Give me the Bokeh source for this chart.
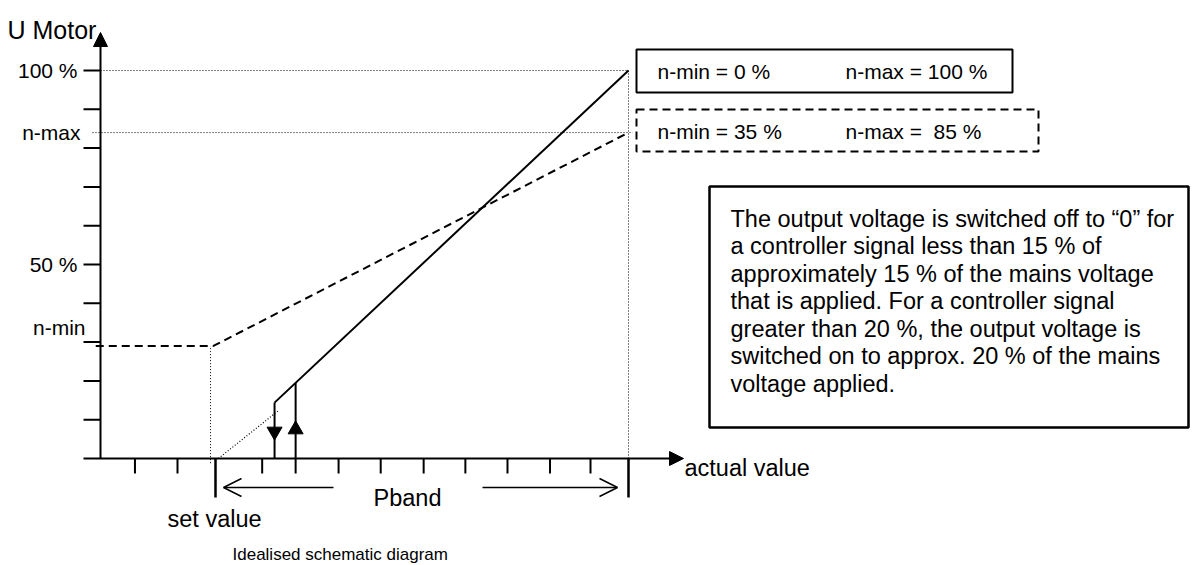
from bokeh.plotting import figure
from bokeh.models import Range1d, Arrow, NormalHead, OpenHead
from bokeh.core.properties import value
from bokeh.embed import file_html
from bokeh.resources import INLINE

# ---------------- data ----------------
y_ticks = [0, 10, 20, 30, 40, 50, 60, 70, 80, 90, 100]
y_label_vals = [100, 50]
y_label_txt = ["100 %", "50 %"]
x_ticks = [-1.95, -0.92, 1.13, 2.98, 4.0, 5.04, 6.05, 7.07, 8.1, 9.08]
x_long_ticks = [0, 10]            # set value, end of P-band
n_min_level = 29
n_max_level = 84
full_x = [1.43, 10]               # n-min = 0 %, n-max = 100 %
full_y = [14.4, 100]
lim_x = [-2.9, -0.05, 10]         # n-min = 35 %, n-max = 85 %
lim_y = [n_min_level, n_min_level, n_max_level]
off_x, off_y = 1.43, 14.4         # switch-off point
on_x, on_y = 1.94, 19.5           # switch-on point
extrap_x = [0.07, 1.53]
extrap_y = [0, 12.4]
box_lines = [
    "The output voltage is switched off to \u201c0\u201d for",
    "a controller signal less than 15 % of",
    "approximately 15 % of the mains voltage",
    "that is applied. For a controller signal",
    "greater than 20 %, the output voltage is",
    "switched on to approx. 20 % of the mains",
    "voltage applied.",
]

# ---------------- layout helpers (page px -> data) ----------------
W, H = 1199, 565
UX, UY = 41.3, 3.88
OX, OY = 215, 458
def X(px): return (px - OX) / UX
def Y(py): return (OY - py) / UY

p = figure(width=W, height=H, output_backend="svg", toolbar_location=None,
           x_axis_type=None, y_axis_type=None, min_border=0,
           x_range=Range1d(X(0), X(W)), y_range=Range1d(Y(H), Y(0)))
p.outline_line_color = None
p.xgrid.visible = False
p.ygrid.visible = False

F = value("Liberation Sans")
ax = X(100)
tick_len_y = 17 / UX
tick_len_x = 15 / UY
long_len_x = 39 / UY

# axes
p.add_layout(Arrow(end=NormalHead(size=14, fill_color="black", line_color="black"),
                   x_start=ax, y_start=0, x_end=ax, y_end=Y(32), line_width=2))
p.add_layout(Arrow(end=NormalHead(size=14, fill_color="black", line_color="black"),
                   x_start=ax - tick_len_y, y_start=0, x_end=X(683), y_end=0, line_width=2))

# y ticks
p.segment(x0=[ax - tick_len_y] * len(y_ticks[1:]), y0=y_ticks[1:],
          x1=[ax] * len(y_ticks[1:]), y1=y_ticks[1:], line_width=2, color="black")
# x ticks
p.segment(x0=x_ticks, y0=[0] * len(x_ticks), x1=x_ticks, y1=[-tick_len_x] * len(x_ticks),
          line_width=2, color="black")
p.segment(x0=x_long_ticks, y0=[0, 0], x1=x_long_ticks, y1=[-long_len_x] * 2,
          line_width=2.5, color="black")

# dotted guides
p.line([ax, 10], [100, 100], line_dash="1 2", line_width=1, color="black")
p.line([X(92), 10.1], [n_max_level, n_max_level], line_dash="1 2", line_width=1, color="black")
p.line([10, 10], [0, 100], line_dash="1 2", line_width=1, color="black")
p.line([-0.12, -0.12], [-1.2, n_min_level], line_dash="1 2", line_width=1, color="black")
p.line(extrap_x, extrap_y, line_dash="1 2", line_width=1.2, color="black")

# curves
p.line(lim_x, lim_y, line_dash="8 5", line_width=2, color="black")
p.line(full_x, full_y, line_width=2, color="black")
p.line([off_x, off_x], [0, off_y], line_width=2, color="black")
p.line([on_x, on_x], [-tick_len_x, on_y], line_width=2, color="black")
p.scatter([off_x], [Y(431)], marker="inverted_triangle", size=15, color="black")
p.scatter([on_x], [Y(429)], marker="triangle", size=15, color="black")

# P-band arrows
yb = Y(487)
p.add_layout(Arrow(end=OpenHead(size=18, line_width=1.5), x_start=X(333), y_start=yb,
                   x_end=X(223), y_end=yb, line_width=1.5))
p.add_layout(Arrow(end=OpenHead(size=18, line_width=1.5), x_start=X(482), y_start=yb,
                   x_end=X(617), y_end=yb, line_width=1.5))

# boxes
p.quad(left=[X(636)], right=[X(1012)], top=[Y(49)], bottom=[Y(92)],
       fill_color=None, line_color="black", line_width=2)
p.quad(left=[X(636)], right=[X(1038)], top=[Y(109)], bottom=[Y(151)],
       fill_color=None, line_color="black", line_width=2, line_dash="8 5")
p.quad(left=[X(709)], right=[X(1188)], top=[Y(186)], bottom=[Y(427)],
       fill_color=None, line_color="black", line_width=2.5)

# texts
def txt(x, y, s, size, align="left", base="middle"):
    p.text(x=[x], y=[y], text=[s], text_font=F, text_font_size=size,
           text_align=align, text_baseline=base, text_color="black")

txt(X(7), Y(29), "U Motor", "25px", base="alphabetic")
for v, s in zip(y_label_vals, y_label_txt):
    txt(X(77), v, s, "21px", align="right")
txt(X(80), n_max_level, "n-max", "21px", align="right")
txt(X(85), Y(327), "n-min", "21px", align="right")
txt(X(684), Y(467), "actual value", "23.5px", base="alphabetic")
txt(X(167), Y(518), "set value", "23.5px", base="alphabetic")
txt(X(373), Y(497), "Pband", "23.5px", base="alphabetic")
txt(X(232), Y(554), "Idealised schematic diagram", "17px", base="alphabetic")
txt(X(657), Y(71), "n-min = 0 %", "21px")
txt(X(845), Y(71), "n-max = 100 %", "21px")
txt(X(657), Y(131), "n-min = 35 %", "21px")
txt(X(845), Y(131), "n-max =\u00a0 85 %", "21px")
for i, s in enumerate(box_lines):
    txt(X(730), Y(218.3 + 27.5 * i), s, "23.5px", base="alphabetic")

open("out.html", "w").write(file_html(p, INLINE))
